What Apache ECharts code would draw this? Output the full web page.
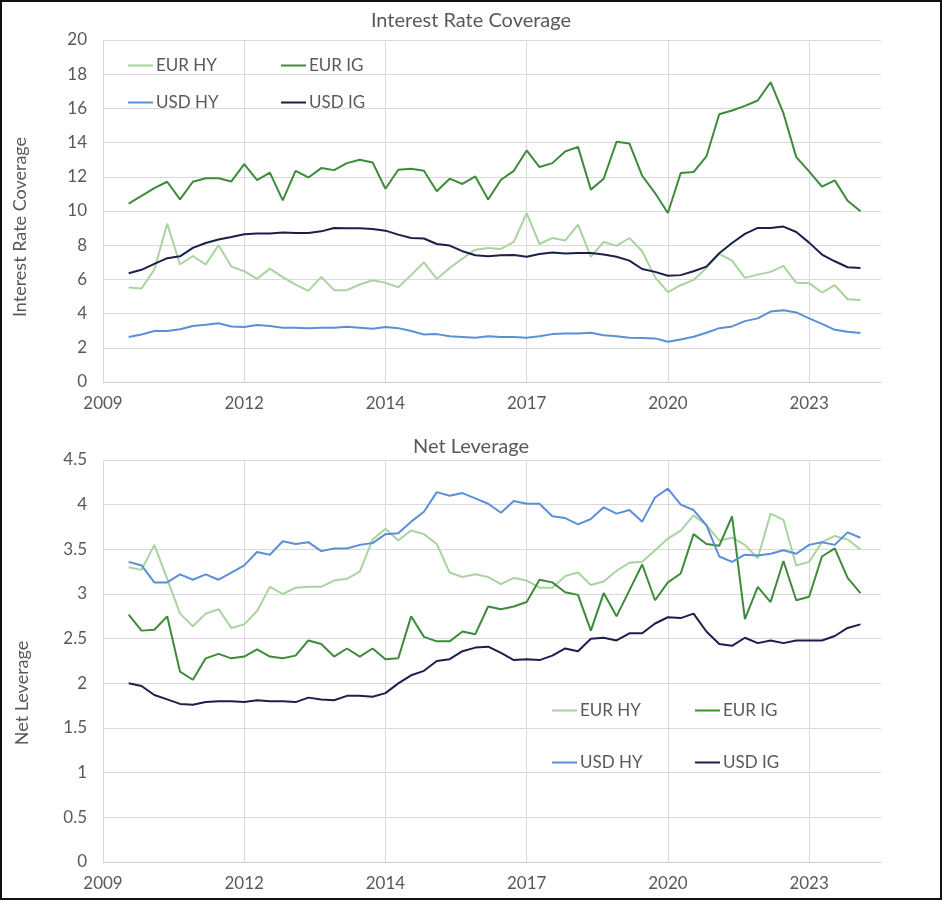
<!DOCTYPE html>
<html><head><meta charset="utf-8">
<script src="https://cdn.jsdelivr.net/npm/echarts@6/dist/echarts.min.js"></script>
<style>
html,body{margin:0;padding:0;background:#fff}
#wrap{position:relative;width:942px;height:900px}
#c{width:942px;height:900px}
#f{position:absolute;left:0;top:0;width:942px;height:900px;box-sizing:border-box;border:2px solid #111;pointer-events:none}
</style>
</head><body>
<div id="wrap"><div id="c"></div><div id="f"></div></div>
<script>
// x tick labels (one every 11 quarters)
const tickLabels = ['2009', '2012', '2014', '2017', '2020', '2023'];
const firstQuarter = 2; // first observation, quarters after the first tick
const seriesNames = ['EUR HY', 'EUR IG', 'USD HY', 'USD IG'];

// Interest Rate Coverage
const ircEurHY = [5.53,5.47,6.58,9.26,6.87,7.37,6.87,8.00,6.75,6.48,
  6.03,6.63,6.13,5.70,5.33,6.15,5.37,5.37,5.70,5.95,
  5.80,5.54,6.25,7.00,6.03,6.67,7.22,7.74,7.84,7.78,
  8.19,9.88,8.07,8.42,8.27,9.20,7.32,8.19,7.96,8.42,
  7.65,6.13,5.25,5.66,5.97,6.67,7.49,7.10,6.09,6.28,
  6.44,6.79,5.80,5.78,5.23,5.66,4.84,4.79];
const ircEurIG = [10.43,10.88,11.34,11.71,10.68,11.71,11.91,11.91,11.73,12.74,
  11.81,12.24,10.62,12.35,11.96,12.51,12.39,12.80,13.00,12.84,
  11.30,12.41,12.47,12.35,11.15,11.89,11.58,12.02,10.67,11.83,
  12.35,13.54,12.57,12.80,13.48,13.75,11.25,11.89,14.05,13.95,
  12.06,11.05,9.88,12.22,12.28,13.19,15.66,15.88,16.15,16.46,
  17.53,15.72,13.15,12.32,11.42,11.79,10.60,9.98];
const ircUsdHY = [2.63,2.78,2.98,2.98,3.09,3.27,3.35,3.44,3.25,3.21,
  3.33,3.27,3.17,3.17,3.15,3.17,3.17,3.23,3.17,3.11,
  3.21,3.15,2.98,2.78,2.80,2.67,2.63,2.59,2.68,2.63,
  2.63,2.59,2.68,2.80,2.84,2.84,2.88,2.74,2.68,2.59,
  2.57,2.55,2.35,2.49,2.65,2.88,3.15,3.25,3.56,3.72,
  4.12,4.20,4.07,3.72,3.40,3.05,2.94,2.86];
const ircUsdIG = [6.36,6.56,6.91,7.24,7.35,7.84,8.13,8.33,8.48,8.64,
  8.68,8.68,8.74,8.72,8.72,8.81,9.01,8.99,8.99,8.95,
  8.85,8.62,8.42,8.39,8.07,7.98,7.65,7.41,7.35,7.41,
  7.43,7.32,7.49,7.57,7.51,7.55,7.55,7.45,7.32,7.10,
  6.61,6.44,6.21,6.25,6.48,6.75,7.53,8.13,8.66,9.01,
  9.01,9.09,8.77,8.15,7.45,7.06,6.71,6.67];

// Net Leverage
const nlEurHY = [3.30,3.27,3.55,3.17,2.78,2.64,2.78,2.83,2.62,2.66,
  2.81,3.08,3.00,3.07,3.08,3.08,3.15,3.17,3.25,3.61,
  3.73,3.60,3.71,3.67,3.56,3.24,3.19,3.22,3.19,3.11,
  3.18,3.15,3.07,3.07,3.20,3.24,3.10,3.14,3.26,3.35,
  3.36,3.49,3.62,3.71,3.88,3.77,3.60,3.63,3.55,3.40,
  3.90,3.83,3.32,3.36,3.58,3.65,3.61,3.50];
const nlEurIG = [2.77,2.59,2.60,2.75,2.13,2.04,2.28,2.33,2.28,2.30,
  2.38,2.30,2.28,2.31,2.48,2.44,2.30,2.39,2.30,2.39,
  2.27,2.28,2.75,2.52,2.47,2.47,2.58,2.55,2.86,2.83,
  2.86,2.91,3.16,3.13,3.02,2.99,2.59,3.01,2.75,3.04,
  3.33,2.93,3.13,3.23,3.67,3.56,3.54,3.87,2.72,3.08,
  2.91,3.37,2.93,2.97,3.42,3.51,3.18,3.01];
const nlUsdHY = [3.36,3.32,3.13,3.13,3.22,3.16,3.22,3.16,3.24,3.32,
  3.47,3.44,3.59,3.56,3.58,3.48,3.51,3.51,3.55,3.57,
  3.67,3.68,3.81,3.92,4.14,4.10,4.13,4.07,4.01,3.91,
  4.04,4.01,4.01,3.87,3.85,3.78,3.84,3.97,3.90,3.94,
  3.81,4.08,4.18,4.00,3.94,3.77,3.42,3.36,3.44,3.43,
  3.45,3.49,3.45,3.55,3.58,3.55,3.69,3.63];
const nlUsdIG = [2.00,1.97,1.87,1.82,1.77,1.76,1.79,1.80,1.80,1.79,
  1.81,1.80,1.80,1.79,1.84,1.82,1.81,1.86,1.86,1.85,
  1.89,2.00,2.09,2.14,2.25,2.27,2.36,2.40,2.41,2.34,
  2.26,2.27,2.26,2.31,2.39,2.36,2.50,2.51,2.48,2.56,
  2.56,2.67,2.74,2.73,2.78,2.58,2.44,2.42,2.51,2.45,
  2.48,2.45,2.48,2.48,2.48,2.53,2.62,2.66];

const colors = ['#a9d4a0', '#3d8b3a', '#5b8fd8', '#1c1f4c'];
const textColor = '#595959';
const font = 'Lato';
const gridColor = '#d9d9d9';

const toPoints = arr => arr.map((v, i) => [i + firstQuarter, v]);
const topData = [ircEurHY, ircEurIG, ircUsdHY, ircUsdIG];
const botData = [nlEurHY, nlEurIG, nlUsdHY, nlUsdIG];

function xAxis(g) {
  return {
    type: 'value', gridIndex: g, min: 0, max: 60.6, interval: 11,
    axisLine: {show: true, lineStyle: {color: '#d0d0d0', width: 1}},
    axisTick: {show: false},
    splitLine: {show: true, lineStyle: {color: [gridColor, gridColor, gridColor, gridColor, gridColor, gridColor, 'rgba(0,0,0,0)'], width: 1}},
    axisLabel: {
      color: textColor, fontFamily: font, fontSize: 17, margin: 13,
      formatter: v => { const k = v / 11; return (Number.isInteger(k) && tickLabels[k]) ? tickLabels[k] : ''; }
    }
  };
}
function yAxis(g, max, interval) {
  return {
    type: 'value', gridIndex: g, min: 0, max: max, interval: interval,
    axisLine: {show: false}, axisTick: {show: false},
    splitLine: {show: true, lineStyle: {color: gridColor, width: 1}},
    axisLabel: {color: textColor, fontFamily: font, fontSize: 17, margin: 16}
  };
}
function legend(name, left, top) {
  return {
    data: [name], left: left, top: top, orient: 'horizontal', padding: 0,
    icon: 'rect', itemWidth: 25, itemHeight: 2, itemGap: 0,
    textStyle: {color: textColor, fontFamily: font, fontSize: 17, padding: [0, 0, 0, -2]}
  };
}

const series = [];
seriesNames.forEach((n, k) => {
  series.push({name: n, type: 'line', xAxisIndex: 0, yAxisIndex: 0, data: toPoints(topData[k]),
    symbol: 'none', lineStyle: {width: 2, color: colors[k]}, itemStyle: {color: colors[k]}});
});
seriesNames.forEach((n, k) => {
  series.push({name: n, type: 'line', xAxisIndex: 1, yAxisIndex: 1, data: toPoints(botData[k]),
    symbol: 'none', lineStyle: {width: 2, color: colors[k]}, itemStyle: {color: colors[k]}});
});

const chart = echarts.init(document.getElementById('c'));
chart.setOption({
  animation: false,
  color: colors,
  title: [
    {text: 'Interest Rate Coverage', left: 'center', top: 11, padding: 0,
      textStyle: {color: textColor, fontFamily: font, fontSize: 20, fontWeight: 'normal'}},
    {text: 'Net Leverage', left: 'center', top: 437, padding: 0,
      textStyle: {color: textColor, fontFamily: font, fontSize: 20, fontWeight: 'normal'}}
  ],
  grid: [
    {left: 103, top: 40, width: 778, height: 342},
    {left: 103, top: 460, width: 778, height: 402}
  ],
  xAxis: [xAxis(0), xAxis(1)],
  yAxis: [yAxis(0, 20, 2), yAxis(1, 4.5, 0.5)],
  legend: [
    legend('EUR HY', 128, 57),
    legend('EUR IG', 281, 57),
    legend('USD HY', 128, 94),
    legend('USD IG', 281, 94),
    legend('EUR HY', 552, 702),
    legend('EUR IG', 695, 702),
    legend('USD HY', 552, 754),
    legend('USD IG', 695, 754)
  ],
  graphic: [
    {type: 'text', x: 20, y: 227, rotation: Math.PI / 2,
      style: {text: 'Interest Rate Coverage', fill: textColor, fontFamily: font, fontSize: 18, align: 'center', verticalAlign: 'middle'}},
    {type: 'text', x: 22, y: 693, rotation: Math.PI / 2,
      style: {text: 'Net Leverage', fill: textColor, fontFamily: font, fontSize: 18, align: 'center', verticalAlign: 'middle'}}
  ],
  series: series
});
</script>
</body></html>
